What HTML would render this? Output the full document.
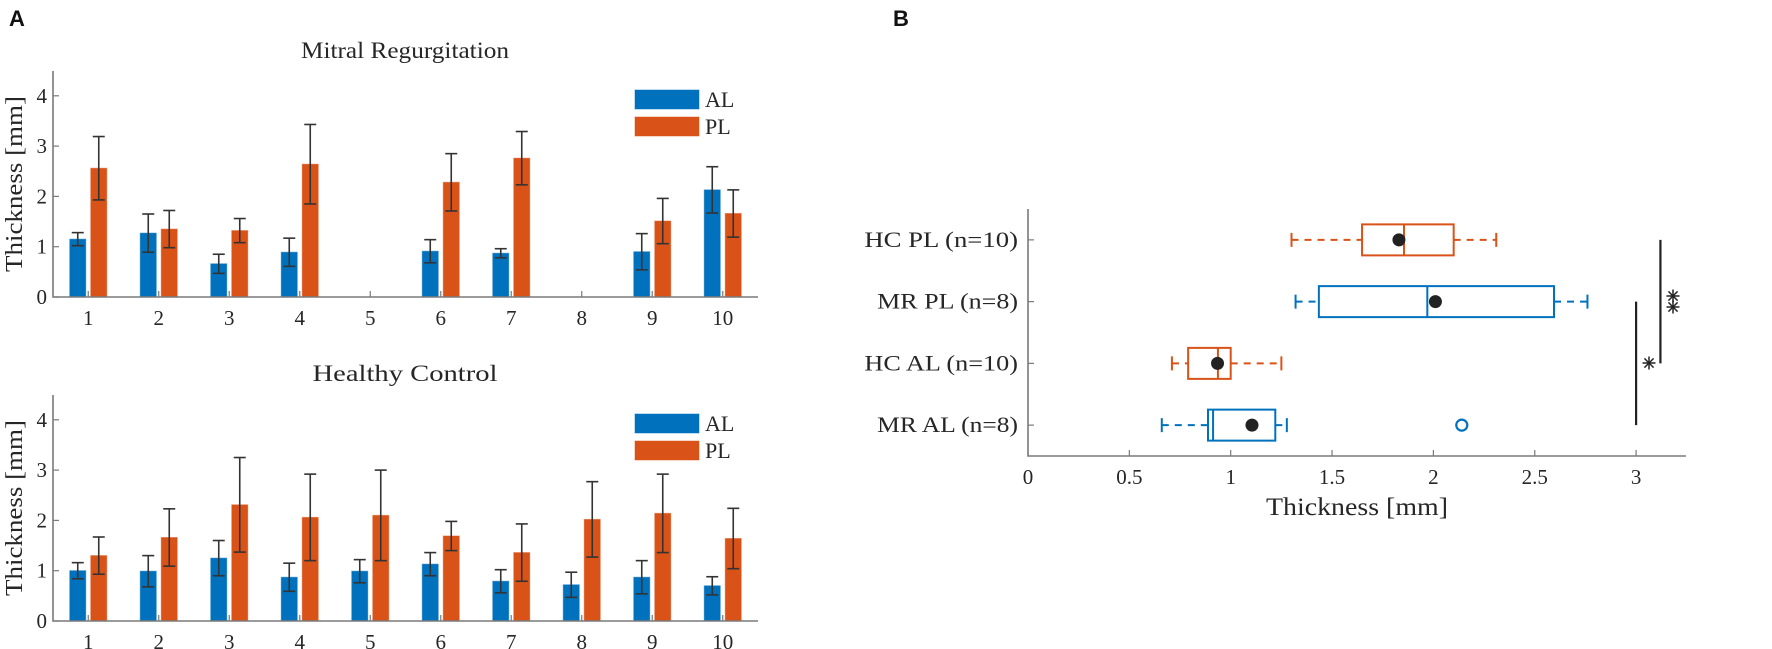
<!DOCTYPE html>
<html><head><meta charset="utf-8"><style>
body{margin:0;background:#fff;}
svg{display:block;font-family:"Liberation Serif",serif;}
</style></head><body>
<svg id="fig" width="1772" height="649" viewBox="0 0 1772 649" xmlns="http://www.w3.org/2000/svg">
<text x="9" y="26" font-family="Liberation Sans, sans-serif" font-weight="bold" font-size="22" fill="#111">A</text>
<text x="893" y="26" font-family="Liberation Sans, sans-serif" font-weight="bold" font-size="22" fill="#111">B</text>
<g id="mr"></g>
<g id="hc"></g>
<g id="box"></g>
</svg>
<script>
const categories = [1,2,3,4,5,6,7,8,9,10];
const yTicks = [0,1,2,3,4];
const mrAL = [1.15,1.27,0.66,0.89,null,0.91,0.87,null,0.90,2.13];
const mrALerr = [0.13,0.38,0.19,0.28,null,0.23,0.09,null,0.36,0.46];
const mrPL = [2.56,1.35,1.32,2.64,null,2.28,2.76,null,1.51,1.66];
const mrPLerr = [0.63,0.37,0.24,0.79,null,0.57,0.53,null,0.45,0.47];
const hcAL = [1.00,0.99,1.25,0.87,0.99,1.13,0.79,0.72,0.87,0.70];
const hcALerr = [0.16,0.31,0.35,0.28,0.23,0.23,0.23,0.25,0.33,0.18];
const hcPL = [1.30,1.66,2.31,2.06,2.10,1.69,1.36,2.02,2.14,1.64];
const hcPLerr = [0.37,0.57,0.94,0.86,0.90,0.29,0.57,0.75,0.78,0.60];

const boxLabels = ["MR AL (n=8)","HC AL (n=10)","MR PL (n=8)","HC PL (n=10)"];
const boxColors = ["#0072BD","#D95319","#0072BD","#D95319"];
const boxWlo = [0.66,0.71,1.32,1.30];
const boxQ1 = [0.888,0.79,1.435,1.648];
const boxMed = [0.913,0.937,1.97,1.855];
const boxQ3 = [1.22,1.00,2.595,2.10];
const boxWhi = [1.277,1.25,2.76,2.31];
const boxMean = [1.105,0.935,2.01,1.83];
const boxOutlierRow = [1];
const boxOutlierVal = [2.14];
const xTicksB = [0,0.5,1,1.5,2,2.5,3];
const xTickLabelsB = ["0","0.5","1","1.5","2","2.5","3"];

const NS="http://www.w3.org/2000/svg";
function mk(parent,tag,attrs,txt){const e=document.createElementNS(NS,tag);for(const k in attrs)e.setAttribute(k,attrs[k]);if(txt!==undefined)e.textContent=txt;parent.appendChild(e);return e;}
const AX="#7a7a7a", TX="#262626";

function barChart(g, zeroY, title, titleY, titleW, al, alErr, pl, plErr){
  const x0=53, x1=758, top=zeroY-226;
  const xs=v=>x0+(v-0.5)*(x1-x0)/10;
  const ys=v=>zeroY-v*50.3;
  let t=mk(g,'text',{x:405,y:titleY,'text-anchor':'middle','font-size':23,fill:TX,textLength:titleW,lengthAdjust:'spacingAndGlyphs'},title);
  
  
  let yl=mk(g,'text',{transform:`translate(22,${(top+zeroY)/2}) rotate(-90)`,'text-anchor':'middle','font-size':24,fill:TX,textLength:176,lengthAdjust:'spacingAndGlyphs'},'Thickness [mm]');
  
  
  const bw=16;
  categories.forEach((c,i)=>{
    const cx=xs(c);
    [[al,alErr,-10.5,'#0072BD','al'],[pl,plErr,10.5,'#D95319','pl']].forEach(([v,e,off,col,nm])=>{
      if(v[i]==null) return;
      const bx=cx+off;
      let r=mk(g,'rect',{x:bx-bw/2,y:ys(v[i]),width:bw,height:ys(0)-ys(v[i]),fill:col,stroke:col,'stroke-opacity':0.5});
      
      
      const eg=mk(g,'g',{stroke:'#333','stroke-width':1.6});
      
      
      const yh=ys(v[i]+e[i]), ylo=ys(v[i]-e[i]);
      mk(eg,'line',{x1:bx,x2:bx,y1:yh,y2:ylo});
      mk(eg,'line',{x1:bx-6,x2:bx+6,y1:yh,y2:yh});
      mk(eg,'line',{x1:bx-6,x2:bx+6,y1:ylo,y2:ylo});
    });
    mk(g,'line',{x1:cx,x2:cx,y1:zeroY,y2:zeroY-6,stroke:AX,'stroke-width':1.2});
    let tl=mk(g,'text',{x:cx,y:zeroY+28,'text-anchor':'middle','font-size':21,fill:TX},String(c));
    
    
  });
  yTicks.forEach(v=>{
    mk(g,'line',{x1:x0,x2:x0+6,y1:ys(v),y2:ys(v),stroke:AX,'stroke-width':1.2});
    let tl=mk(g,'text',{x:47,y:ys(v)+7,'text-anchor':'end','font-size':21,fill:TX},String(v));
    
    
  });
  let ax=mk(g,'path',{d:`M${x0},${top} V${zeroY} H${x1}`,fill:'none',stroke:AX,'stroke-width':1.6});
  
  
  const ly=zeroY-207;
  [['AL','#0072BD',0],['PL','#D95319',27]].forEach(([n,col,dy])=>{
    let p=mk(g,'rect',{x:635,y:ly+dy,width:64,height:19,fill:col,stroke:col,'stroke-opacity':0.5});
    
    
    let lt=mk(g,'text',{x:705,y:ly+dy+17,'font-size':22,fill:TX},n);
    
    
  });
}
barChart(document.getElementById('mr'),297,'Mitral Regurgitation',58,208,mrAL,mrALerr,mrPL,mrPLerr);
barChart(document.getElementById('hc'),621,'Healthy Control',381,185,hcAL,hcALerr,hcPL,hcPLerr);

(function(){
  const g=document.getElementById('box');
  const x0=1028, top=209, bot=456, pxu=202.7;
  const xs=v=>x0+v*pxu;
  const ys=r=>bot-(r+0.5)*(bot-top)/4;
  boxLabels.forEach((lab,i)=>{
    const y=ys(i), col=boxColors[i];
    mk(g,'line',{x1:x0,x2:x0+6,y1:y,y2:y,stroke:AX,'stroke-width':1.2});
    let tl=mk(g,'text',{x:1018,y:y+7,'text-anchor':'end','font-size':22,fill:TX,textLength:lab.length*12.8,lengthAdjust:'spacingAndGlyphs'},lab);
    
    
    const bg=mk(g,'g',{stroke:col,'stroke-width':2,fill:'none'});
    
    
    mk(bg,'line',{x1:xs(boxWlo[i]),x2:xs(boxQ1[i]),y1:y,y2:y,'stroke-dasharray':'7,6'});
    mk(bg,'line',{x1:xs(boxQ3[i]),x2:xs(boxWhi[i]),y1:y,y2:y,'stroke-dasharray':'7,6'});
    mk(bg,'line',{x1:xs(boxWlo[i]),x2:xs(boxWlo[i]),y1:y-7,y2:y+7});
    mk(bg,'line',{x1:xs(boxWhi[i]),x2:xs(boxWhi[i]),y1:y-7,y2:y+7});
    mk(bg,'rect',{x:xs(boxQ1[i]),y:y-15.5,width:xs(boxQ3[i])-xs(boxQ1[i]),height:31});
    mk(bg,'line',{x1:xs(boxMed[i]),x2:xs(boxMed[i]),y1:y-15.5,y2:y+15.5});
    let m=mk(g,'circle',{cx:xs(boxMean[i]),cy:y,r:6.5,fill:'#222'});
    
    
  });
  boxOutlierRow.forEach((r,k)=>{
    let o=mk(g,'circle',{cx:xs(boxOutlierVal[k]),cy:ys(r-1),r:5.5,fill:'none',stroke:boxColors[r-1],'stroke-width':2.2});
    
    
  });
  xTicksB.forEach((v,i)=>{
    mk(g,'line',{x1:xs(v),x2:xs(v),y1:bot,y2:bot-6,stroke:AX,'stroke-width':1.2});
    let tl=mk(g,'text',{x:xs(v),y:bot+28,'text-anchor':'middle','font-size':21,fill:TX},xTickLabelsB[i]);
    
    
  });
  let ax=mk(g,'path',{d:`M${x0},${top} V${bot} H1686`,fill:'none',stroke:AX,'stroke-width':1.6});
  
  
  let xl=mk(g,'text',{x:1357,y:515,'text-anchor':'middle','font-size':25,fill:TX,textLength:182,lengthAdjust:'spacingAndGlyphs'},'Thickness [mm]');
  
  
  const sg=mk(g,'g',{stroke:'#222','stroke-width':2.2});
  
  
  mk(sg,'line',{x1:xs(3.0),x2:xs(3.0),y1:ys(2),y2:ys(0)});
  mk(sg,'line',{x1:xs(3.12),x2:xs(3.12),y1:ys(3),y2:ys(1)});
  function star(cx,cy){
    const r=6.5;
    for(let k=0;k<4;k++){const a=k*Math.PI/4;mk(sg,'line',{x1:cx-r*Math.cos(a),y1:cy-r*Math.sin(a),x2:cx+r*Math.cos(a),y2:cy+r*Math.sin(a),'stroke-width':1.5});}
  }
  star(1649,363); star(1673,296); star(1673,307);
})();
</script>
</body></html>
